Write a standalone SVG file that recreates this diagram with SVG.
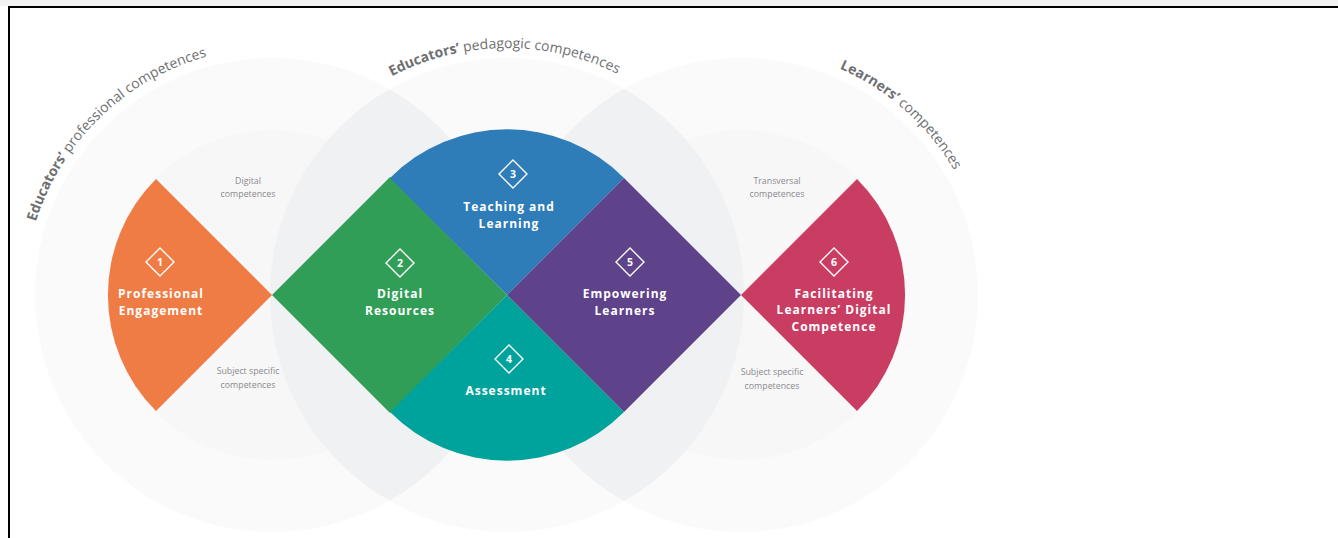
<svg xmlns="http://www.w3.org/2000/svg" width="1338" height="538" viewBox="0 0 1338 538">
<style>
.title{font-family:"Open Sans","Liberation Sans",sans-serif;font-size:14px;fill:#6e6f71}
.title .b{font-weight:700}
.small{font-family:"Open Sans","Liberation Sans",sans-serif;font-size:8.8px;fill:#8a8b8d;text-anchor:middle}
.lbl{font-family:"Open Sans","Liberation Sans",sans-serif;font-size:12px;font-weight:700;fill:#fff;text-anchor:middle;letter-spacing:1px}
.num{font-family:"Open Sans","Liberation Sans",sans-serif;font-size:10.5px;font-weight:700;fill:#fff;text-anchor:middle}
.icon{fill:none;stroke:#fff;stroke-width:1.4}
</style>
<defs>
<clipPath id="cL"><circle cx="272" cy="295" r="237"/></clipPath>
<clipPath id="cR"><circle cx="741" cy="295" r="237"/></clipPath>
<path id="arcL" d="M31.4,355 A249,249 0 0 1 340.4,56.6"/>
<path id="arcM" d="M290.1,174.8 A249,249 0 0 1 719.6,167.3"/>
<path id="arcR" d="M660.3,60.5 A249,249 0 0 1 984.4,342.3"/>
</defs>
<rect x="0" y="0" width="1338" height="538" fill="#fff"/>
<rect x="0" y="0" width="1338" height="6" fill="#f2f2f2"/>
<rect x="8" y="6" width="1330" height="2" fill="#000"/>
<rect x="8" y="6" width="2" height="532" fill="#000"/>

<g id="background">
<circle cx="272" cy="295" r="237" fill="#fafafa"/>
<circle cx="507" cy="295" r="237" fill="#fafafa"/>
<circle cx="741" cy="295" r="237" fill="#fafafa"/>
<circle cx="272" cy="295" r="165" fill="#f7f7f8"/>
<circle cx="741" cy="295" r="165" fill="#f7f7f8"/>
<circle cx="507" cy="295" r="237" fill="#f0f1f3" clip-path="url(#cL)"/>
<circle cx="507" cy="295" r="237" fill="#f0f1f3" clip-path="url(#cR)"/>
</g>

<g id="titles">
<text class="title"><textPath href="#arcL" startOffset="50%" text-anchor="middle"><tspan class="b">Educators’</tspan> professional competences</textPath></text>
<text class="title"><textPath href="#arcM" startOffset="50.3%" text-anchor="middle"><tspan class="b">Educators’</tspan> pedagogic competences</textPath></text>
<text class="title"><textPath href="#arcR" startOffset="50.5%" text-anchor="middle"><tspan class="b">Learners’</tspan> competences</textPath></text>
</g>

<g id="small-labels">
<text class="small" x="248" y="184">Digital</text>
<text class="small" x="248" y="197">competences</text>
<text class="small" x="248" y="374">Subject specific</text>
<text class="small" x="248" y="388">competences</text>
<text class="small" x="777" y="184">Transversal</text>
<text class="small" x="777" y="197">competences</text>
<text class="small" x="772" y="375">Subject specific</text>
<text class="small" x="772" y="389">competences</text>
</g>

<g id="node1">
<path d="M272,295 L156,179 A164,164 0 0 0 156,411 Z" fill="#ef7c45"/>
<path class="icon" d="M160,248 L174,262 L160,276 L146,262 Z"/>
<text class="num" x="160" y="266">1</text>
<text class="lbl" x="161" y="298">Professional</text>
<text class="lbl" x="161" y="315">Engagement</text>
</g>

<g id="node2">
<path d="M272,295 L390,177 L507,295 L390,413 Z" fill="#309e56"/>
<path class="icon" d="M400,249 L414,263 L400,277 L386,263 Z"/>
<text class="num" x="400" y="267">2</text>
<text class="lbl" x="400" y="298">Digital</text>
<text class="lbl" x="400" y="315">Resources</text>
</g>

<g id="node3">
<path d="M507,295 L390,178 A165,165 0 0 1 624,178 Z" fill="#2e7cb8"/>
<path class="icon" d="M513,160 L527,174 L513,188 L499,174 Z"/>
<text class="num" x="513" y="178">3</text>
<text class="lbl" x="509" y="211">Teaching and</text>
<text class="lbl" x="509" y="228">Learning</text>
</g>

<g id="node4">
<path d="M507,295 L624,412 A165,165 0 0 1 390,412 Z" fill="#00a39b"/>
<path class="icon" d="M509,345 L523,359 L509,373 L495,359 Z"/>
<text class="num" x="509" y="363">4</text>
<text class="lbl" x="506" y="395">Assessment</text>
</g>

<g id="node5">
<path d="M507,295 L624,178 L741,295 L624,412 Z" fill="#5e428a"/>
<path class="icon" d="M630,248 L644,262 L630,276 L616,262 Z"/>
<text class="num" x="630" y="266">5</text>
<text class="lbl" x="625" y="298">Empowering</text>
<text class="lbl" x="625" y="315">Learners</text>
</g>

<g id="node6">
<path d="M741,295 L857,179 A164,164 0 0 1 857,411 Z" fill="#c93d63"/>
<path class="icon" d="M834,248 L848,262 L834,276 L820,262 Z"/>
<text class="num" x="834" y="266">6</text>
<text class="lbl" x="834" y="298">Facilitating</text>
<text class="lbl" x="834" y="314">Learners’ Digital</text>
<text class="lbl" x="834" y="331">Competence</text>
</g>

<g id="connectors"></g>
</svg>
